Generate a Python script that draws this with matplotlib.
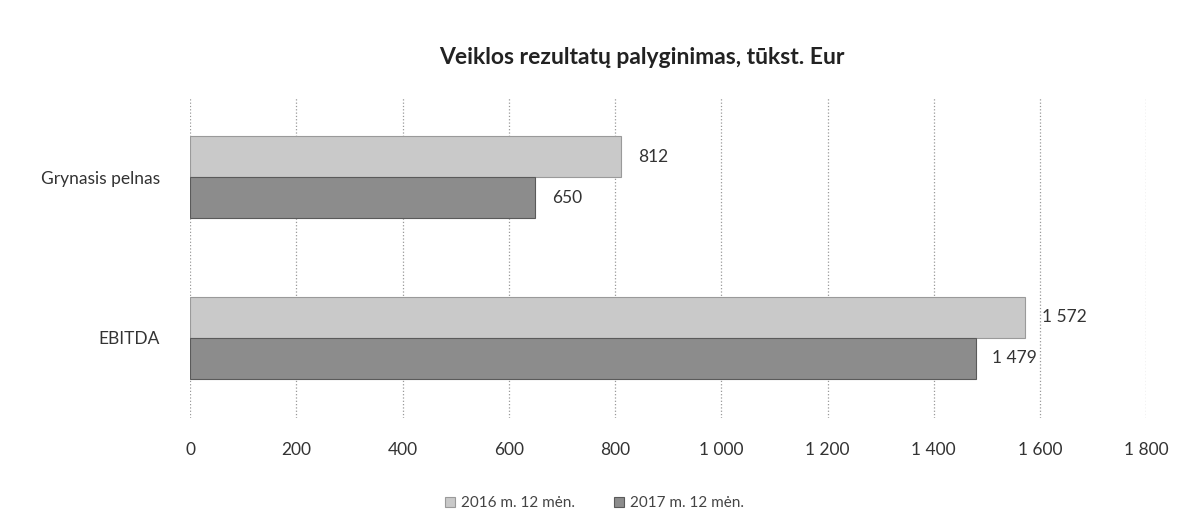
import matplotlib
matplotlib.use("Agg")
import matplotlib.pyplot as plt
from matplotlib.ticker import FuncFormatter
import numpy as np

plt.rcParams['font.family'] = ['Lato', 'DejaVu Sans']

# Data
categories = ['Grynasis pelnas', 'EBITDA']
series_names = ['2016 m. 12 mėn.', '2017 m. 12 mėn.']
values_2016 = [812, 1572]
values_2017 = [650, 1479]
x_ticks = [0, 200, 400, 600, 800, 1000, 1200, 1400, 1600, 1800]

color_2016 = '#c9c9c9'
color_2017 = '#8c8c8c'

fig = plt.figure(figsize=(11.89, 5.23), dpi=100)
ax = fig.add_axes([0.160, 0.200, 0.804, 0.615])

y = np.arange(len(categories))
h = 0.255
b1 = ax.barh(y - h / 2, values_2016, height=h, color=color_2016,
             edgecolor='#9a9a9a', linewidth=0.8, label=series_names[0], zorder=3)
b2 = ax.barh(y + h / 2, values_2017, height=h, color=color_2017,
             edgecolor='#5a5a5a', linewidth=0.8, label=series_names[1], zorder=3)

fmt = lambda v: f'{int(v):,}'.replace(',', ' ')
for bars in (b1, b2):
    ax.bar_label(bars, labels=[fmt(b.get_width()) for b in bars], padding=12,
                 fontsize=12.5, color='#333333')

ax.set_xlim(0, 1800)
ax.set_ylim(1.5, -0.5)
ax.set_xticks(x_ticks)
ax.xaxis.set_major_formatter(FuncFormatter(lambda v, p: fmt(v)))
ax.set_yticks(y)
ax.set_yticklabels(categories)
ax.tick_params(axis='both', length=0, labelsize=12.5, colors='#333333')
ax.tick_params(axis='x', pad=17)
ax.tick_params(axis='y', pad=22)

ax.grid(axis='x', linestyle=':', color='#999999', linewidth=0.9, zorder=0)
for s in ax.spines.values():
    s.set_visible(False)

fig.suptitle('Veiklos rezultatų palyginimas, tūkst. Eur', x=0.54, y=0.91,
             fontsize=16.5, fontweight='bold', color='#222222')

ax.legend(loc='upper center', bbox_to_anchor=(0.5, 0.077), bbox_transform=fig.transFigure,
          ncol=2, frameon=False, fontsize=11, handlelength=0.7, handleheight=0.7,
          columnspacing=2.5, handletextpad=0.4, labelcolor='#444444')

fig.savefig('out.png', dpi=100)
